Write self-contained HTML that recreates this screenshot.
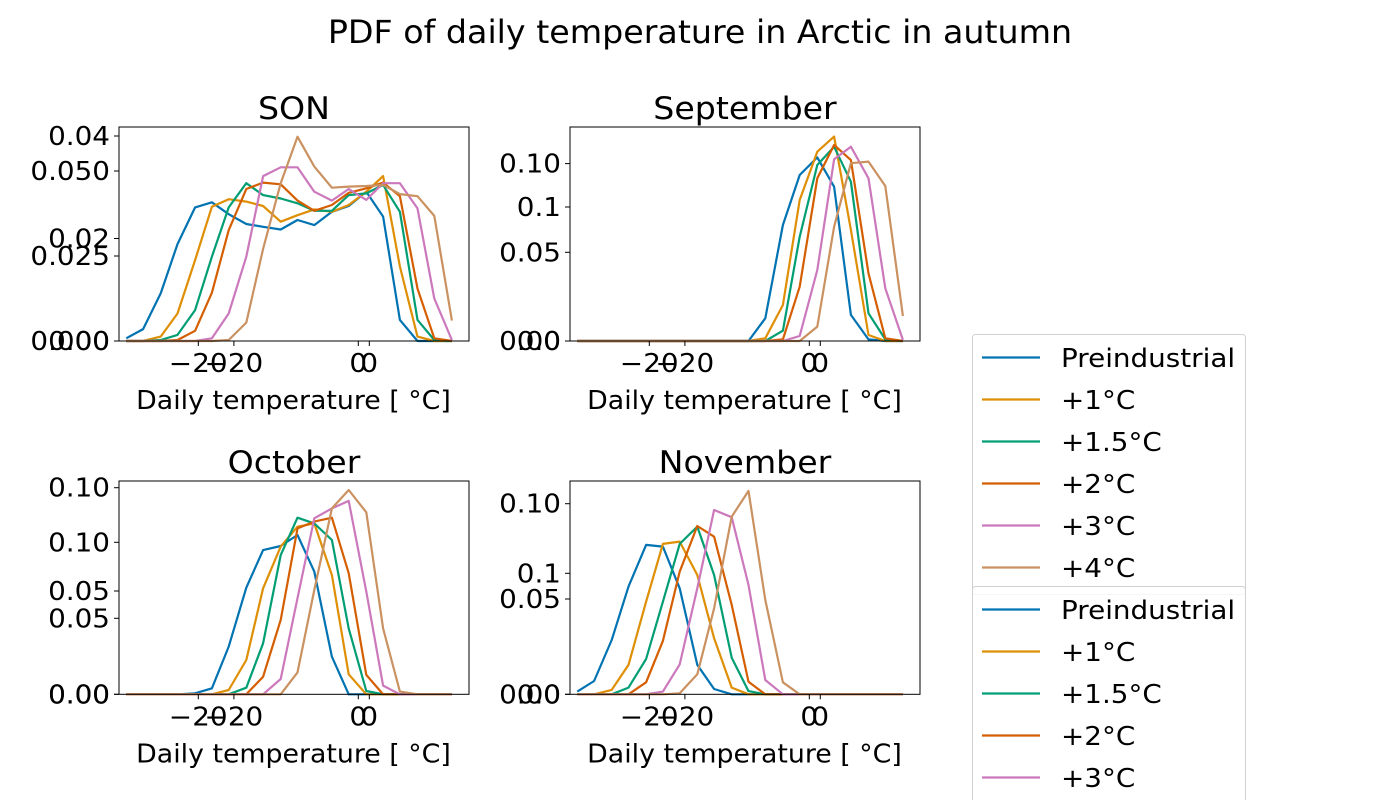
<!DOCTYPE html>
<html><head><meta charset="utf-8">
<style>
html,body{margin:0;padding:0;background:#fff;}
svg{display:block;font-family:"DejaVu Sans","Liberation Sans",sans-serif;}
</style></head>
<body>
<svg id="fig" width="1400" height="800" viewBox="0 0 1400 800" xmlns="http://www.w3.org/2000/svg">
<rect width="1400" height="800" fill="#fff"/>
<text id="ftitle" x="700" y="43" font-size="32" text-anchor="middle">PDF of daily temperature in Arctic in autumn</text>
<g id="panels"></g>
<g id="legends"></g>
</svg>
<script>
// bin centres (deg C)
const bins = [-29.0,-26.9,-24.7,-22.6,-20.4,-18.3,-16.2,-14.0,-11.9,-9.7,-7.6,-5.5,-3.3,-1.2,1.0,3.1,5.2,7.4,9.5,11.7];
const seriesNames = ["Preindustrial","+1°C","+1.5°C","+2°C","+3°C","+4°C"];
const colors = ["#0173b2","#de8f05","#029e73","#d55e00","#cc78bc","#ca9161"];
// PDF values in units of 1e-3
const sonPre = [0.8,3.5,14.0,28.5,39.3,40.8,37.3,34.4,33.6,32.8,35.6,34.1,38.0,39.7,43.9,36.6,6.2,0,0,0];
const son1 = [0,0,1.3,8.1,23.8,39.5,41.7,41.0,39.7,35.1,37.0,38.7,38.0,40.0,43.9,48.5,21.9,1.3,0,0];
const son15 = [0,0,0.3,1.8,9.1,24.8,39.3,46.4,42.9,41.9,40.5,38.3,38.3,42.9,43.4,45.9,38.0,6.2,0.3,0];
const son2 = [0,0,0,0.3,3.0,14.2,32.6,44.7,46.6,46.1,41.3,38.3,40.0,43.6,44.9,46.6,42.6,15.4,0.8,0];
const son3 = [0,0,0,0,0,0.8,8.1,24.8,48.5,51.1,51.1,43.9,41.3,44.7,41.5,46.4,46.4,39.0,12.5,0.3];
const son4 = [0,0,0,0,0,0,0.3,5.4,27.1,46.4,60.1,51.3,45.1,45.4,45.6,45.9,43.2,42.6,36.8,6.0];
const sepPre = [0,0,0,0,0,0,0,0,0,0,0,12.8,65.4,93.6,103.5,87.0,14.7,0.9,0,0];
const sep1 = [0,0,0,0,0,0,0,0,0,0,0,1.5,20.3,79.5,106.7,115.2,62.6,3.4,0,0];
const sep15 = [0,0,0,0,0,0,0,0,0,0,0,0,5.8,58.8,99.2,109.5,89.8,15.6,0.9,0];
const sep2 = [0,0,0,0,0,0,0,0,0,0,0,0,0.9,30.6,91.7,110.5,102.0,38.1,1.5,0];
const sep3 = [0,0,0,0,0,0,0,0,0,0,0,0,0,2.8,40.0,102.4,109.5,91.7,29.7,0.6];
const sep4 = [0,0,0,0,0,0,0,0,0,0,0,0,0,0,8.1,64.4,100.2,101.1,87.4,14.1];
const octPre = [0,0,0,0,0.5,2.9,23.1,51.6,69.8,71.8,77.1,59.4,18.2,0,0,0,0,0,0,0];
const oct1 = [0,0,0,0,0,0,2.1,16.6,51.3,71.5,81.1,82.7,57.7,9.7,0,0,0,0,0,0];
const oct15 = [0,0,0,0,0,0,0,3.2,24.7,67.4,85.5,82.7,74.7,31.9,1.6,0,0,0,0,0];
const oct2 = [0,0,0,0,0,0,0,0,8.5,36.0,80.3,83.6,85.5,58.6,9.4,0,0,0,0,0];
const oct3 = [0,0,0,0,0,0,0,0,0,7.4,46.5,85.2,90.0,93.6,49.7,4.2,0,0,0,0];
const oct4 = [0,0,0,0,0,0,0,0,0,0,10.6,50.5,90.0,98.9,88.1,31.9,1.3,0,0,0];
const novPre = [1.4,7.0,28.5,56.5,78.4,77.5,55.6,15.4,2.8,0,0,0,0,0,0,0,0,0,0,0];
const nov1 = [0,0,2.3,15.4,48.6,78.9,80.1,62.6,29.4,3.5,0,0,0,0,0,0,0,0,0,0];
const nov15 = [0,0,0,3.5,18.5,48.6,78.9,88.0,62.6,19.2,1.7,0,0,0,0,0,0,0,0,0];
const nov2 = [0,0,0,0,6.3,28.0,64.4,88.3,82.7,46.9,6.6,0,0,0,0,0,0,0,0,0];
const nov3 = [0,0,0,0,0,1.4,15.7,55.6,96.7,92.9,57.4,7.5,0,0,0,0,0,0,0,0];
const nov4 = [0,0,0,0,0,0,0.5,10.5,45.1,93.2,106.7,49.5,6.3,0,0,0,0,0,0,0];
// y ticks (1e-3 units) and labels for the two overlapping tick sets
const sonTicksA = [0,25,50], sonLabelsA = ["0.000","0.025","0.050"];
const sonTicksB = [0,20,40], sonLabelsB = ["0.00","0.02","0.04"];
const sepTicksA = [0,50,100], sepLabelsA = ["0.00","0.05","0.10"];
const sepTicksB = [0,100], sepLabelsB = ["0.0","0.1"];
const octTicksA = [0,50,100], octLabelsA = ["0.00","0.05","0.10"];
const octTicksB = [0,50,100], octLabelsB = ["0.00","0.05","0.10"];
const novTicksA = [0,50,100], novLabelsA = ["0.00","0.05","0.10"];
const novTicksB = [0,100], novLabelsB = ["0.0","0.1"];
const xTicks = [-20,0], xLabels = ["\u221220","0"];

const NS="http://www.w3.org/2000/svg";
function mk(tag, parent){const e=document.createElementNS(NS,tag);parent.appendChild(e);return e;}
const stretchList=[];
const FS="25.5", SF=1.09;

const panels = [
 {name:"son",title:"SON",left:119,top:127,bottom:341,kA:3.4,kB:5.125,tA:sonTicksA,lA:sonLabelsA,tB:sonTicksB,lB:sonLabelsB,data:[sonPre,son1,son15,son2,son3,son4]},
 {name:"september",title:"September",left:570,top:127,bottom:341,kA:1.774,kB:1.34,tA:sepTicksA,lA:sepLabelsA,tB:sepTicksB,lB:sepLabelsB,data:[sepPre,sep1,sep15,sep2,sep3,sep4]},
 {name:"october",title:"October",left:119,top:481,bottom:694.3,kA:2.066,kB:1.52,tA:octTicksA,lA:octLabelsA,tB:octTicksB,lB:octLabelsB,data:[octPre,oct1,oct15,oct2,oct3,oct4]},
 {name:"november",title:"November",left:570,top:481,bottom:694.3,kA:1.906,kB:1.21,tA:novTicksA,lA:novLabelsA,tB:novTicksB,lB:novLabelsB,data:[novPre,nov1,nov15,nov2,nov3,nov4]}
];
const W=350;
const root=document.getElementById("panels");
panels.forEach(p=>{
  const g=mk("g",root);
  
  
  const xA=x=>p.left+239.3+x*8;
  const xB=x=>p.left+250.3+x*6.77;
  const yA=v=>p.bottom-v*p.kA;
  const yB=v=>p.bottom-v*p.kB;
  const t=mk("text",g);
  
  
  t.setAttribute("x",p.left+W/2);t.setAttribute("y",p.top-8);t.setAttribute("font-size","31");t.setAttribute("text-anchor","middle");t.textContent=p.title;
  stretchList.push([t,1.07]);
  p.data.forEach((arr,si)=>{
    const pl=mk("polyline",g);
    
    
    pl.setAttribute("points",arr.map((v,i)=>xA(bins[i]).toFixed(1)+","+yA(v).toFixed(1)).join(" "));
    pl.setAttribute("fill","none");pl.setAttribute("stroke",colors[si]);pl.setAttribute("stroke-width","2.2");pl.setAttribute("stroke-linejoin","round");
  });
  const r=mk("rect",g);
  
  
  r.setAttribute("x",p.left);r.setAttribute("y",p.top);r.setAttribute("width",W);r.setAttribute("height",p.bottom-p.top);r.setAttribute("fill","none");r.setAttribute("stroke","#000");r.setAttribute("stroke-width","1");
  [xA,xB].forEach((fx,k)=>{
    xTicks.forEach((tv,i)=>{
      const px=fx(tv);
      const l=mk("line",g);
      
      
      l.setAttribute("x1",px);l.setAttribute("x2",px);l.setAttribute("y1",p.bottom);l.setAttribute("y2",p.bottom+5);l.setAttribute("stroke","#000");
      const tx=mk("text",g);
      
      
      tx.setAttribute("x",px);tx.setAttribute("y",p.bottom+31);tx.setAttribute("font-size",FS);tx.setAttribute("text-anchor","middle");tx.textContent=xLabels[i];
      stretchList.push([tx,SF]);
    });
  });
  [[p.tA,p.lA,yA],[p.tB,p.lB,yB]].forEach(([ts,ls,fy])=>{
    ts.forEach((tv,i)=>{
      const py=fy(tv);
      const l=mk("line",g);
      
      
      l.setAttribute("x1",p.left-5);l.setAttribute("x2",p.left);l.setAttribute("y1",py);l.setAttribute("y2",py);l.setAttribute("stroke","#000");
      const tx=mk("text",g);
      
      
      tx.setAttribute("x",p.left-9);tx.setAttribute("y",py+9);tx.setAttribute("font-size",FS);tx.setAttribute("text-anchor","end");tx.textContent=ls[i];
      stretchList.push([tx,SF]);
    });
  });
  const xl=mk("text",g);
  
  
  xl.setAttribute("x",p.left+W/2-0.5);xl.setAttribute("y",p.bottom+68);xl.setAttribute("font-size",FS);xl.setAttribute("text-anchor","middle");xl.textContent="Daily temperature [ °C]";
  stretchList.push([xl,1.05]);
});
const lg=document.getElementById("legends");
[[334,594],[586,830]].forEach(([top,bot],li)=>{
  const g=mk("g",lg);
  
  
  const r=mk("rect",g);
  
  
  r.setAttribute("x",972.5);r.setAttribute("y",top+0.5);r.setAttribute("width",273);r.setAttribute("height",bot-top);r.setAttribute("rx",3);r.setAttribute("fill","#fff");r.setAttribute("fill-opacity","0.8");r.setAttribute("stroke","#d0d0d0");
  for(let i=0;i<seriesNames.length;i++){
    const cy=top+23.5+i*42;
    const e=mk("g",g);
    
    
    const l=mk("line",e);
    
    
    l.setAttribute("x1",982);l.setAttribute("x2",1040);l.setAttribute("y1",cy);l.setAttribute("y2",cy);l.setAttribute("stroke",colors[i]);l.setAttribute("stroke-width","2.2");
    const t=mk("text",e);
    
    
    t.setAttribute("x",1061);t.setAttribute("y",cy+9.5);t.setAttribute("font-size",FS);t.textContent=seriesNames[i];
    stretchList.push([t,SF]);
  }
});
stretchList.push([document.getElementById("ftitle"),1.04]);
stretchList.forEach(([el,f])=>{
  const w=el.getComputedTextLength();
  el.setAttribute("textLength",(w*f).toFixed(1));
  el.setAttribute("lengthAdjust","spacingAndGlyphs");
});
</script>
</body></html>
